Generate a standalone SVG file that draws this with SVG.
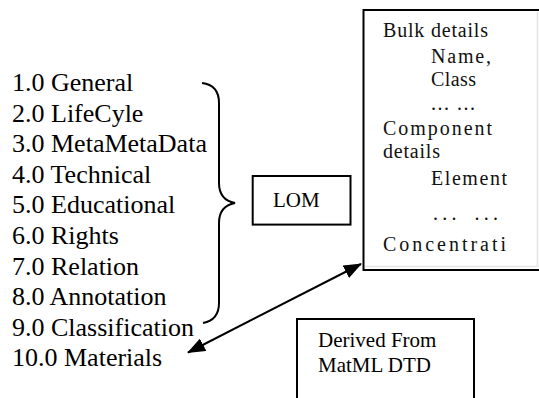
<svg xmlns="http://www.w3.org/2000/svg" width="539" height="398" viewBox="0 0 539 398">
<style>
.list{font-family:"Liberation Serif","DejaVu Serif","Noto Serif",serif;font-size:26px;fill:#000}
.lbl{font-family:"Liberation Serif","DejaVu Serif","Noto Serif",serif;font-size:21px;fill:#000}
.det{font-family:"Liberation Serif","DejaVu Serif","Noto Serif",serif;font-size:20px;fill:#111}
.box{fill:#fff;stroke:#000;stroke-width:2}
.line{fill:none;stroke:#000;stroke-width:2}
</style>
<defs>
<marker id="ah" markerWidth="18" markerHeight="14" refX="17" refY="7" orient="auto-start-reverse" markerUnits="userSpaceOnUse">
<path d="M0,0 L18,7 L0,14 Z" fill="#000"/>
</marker>
</defs>
<rect width="539" height="398" fill="#fff"/>
<g id="lom-list">
<text class="list" x="12" y="91">1.0 General</text>
<text class="list" x="12" y="121.6">2.0 LifeCyle</text>
<text class="list" x="12" y="152.2">3.0 MetaMetaData</text>
<text class="list" x="12" y="182.8">4.0 Technical</text>
<text class="list" x="12" y="213.4">5.0 Educational</text>
<text class="list" x="12" y="244">6.0 Rights</text>
<text class="list" x="12" y="274.6">7.0 Relation</text>
<text class="list" x="12" y="305.2">8.0 Annotation</text>
<text class="list" x="12" y="335.8">9.0 Classification</text>
<text class="list" x="12" y="366.4">10.0 Materials</text>
</g>
<g id="brace">
<path class="line" d="M202,83 Q219,85 219,103 L219,183 Q219,200 235,203 Q219,206 219,223 L219,303 Q219,320 203,323"/>
</g>
<g id="lom">
<rect class="box" x="252.7" y="176" width="97.8" height="48.6"/>
<text class="lbl" x="273" y="207">LOM</text>
</g>
<g id="matml-details">
<rect class="box" x="363.5" y="10" width="190" height="260" stroke="#222"/>
<path d="M537.5,12 V266.5 H365" fill="none" stroke="#e4e4e4" stroke-width="1.5"/>
<text class="det" x="383" y="37" textLength="105" lengthAdjust="spacing">Bulk details</text>
<text class="det" x="431" y="63" textLength="60" lengthAdjust="spacing">Name,</text>
<text class="det" x="431" y="86" textLength="45" lengthAdjust="spacing">Class</text>
<text class="det" x="431" y="110" font-size="14" textLength="44" lengthAdjust="spacing">... ...</text>
<text class="det" x="383" y="135" textLength="109" lengthAdjust="spacing">Component</text>
<text class="det" x="383" y="158" textLength="57" lengthAdjust="spacing">details</text>
<text class="det" x="431" y="185" textLength="76" lengthAdjust="spacing">Element</text>
<text class="det" x="433" y="220" font-size="14" textLength="65" lengthAdjust="spacing" xml:space="preserve">. . .    . . .</text>
<text class="det" x="383" y="251" font-size="23" textLength="123" lengthAdjust="spacing">Concentrati</text>
</g>
<g id="derived">
<path class="line" d="M297,399 V319 H474 V399"/>
<text class="lbl" x="318" y="347">Derived From</text>
<text class="lbl" x="318" y="372">MatML DTD</text>
</g>
<g id="connectors">
<line class="line" x1="188" y1="352.5" x2="361" y2="264" marker-start="url(#ah)" marker-end="url(#ah)"/>
</g>
</svg>
